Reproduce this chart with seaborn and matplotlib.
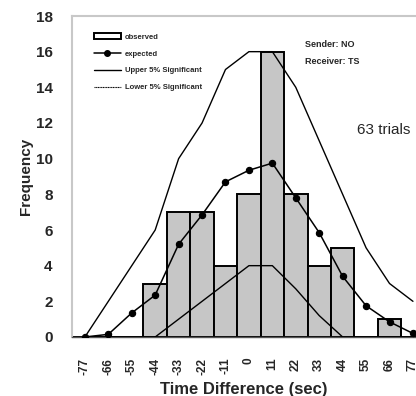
import numpy as np
import pandas as pd
import matplotlib
matplotlib.use("Agg")
import matplotlib.pyplot as plt
import seaborn as sns
from matplotlib.patches import Patch
from matplotlib.lines import Line2D

categories = ["-77", "-66", "-55", "-44", "-33", "-22", "-11", "0",
              "11", "22", "33", "44", "55", "66", "77"]
observed = [0, 0, 0, 3, 7, 7, 4, 8, 16, 8, 4, 5, 0, 1, 0]
expected = [0, 0.15, 1.35, 2.35, 5.2, 6.85, 8.7, 9.35, 9.75, 7.8, 5.85, 3.4, 1.75, 0.85, 0.2]
upper5 = [0, 2, 4, 6, 10, 12, 15, 16, 16, 14, 11, 8, 5, 3, 2]
lower5 = [0, 0, 0, 0, 1, 2, 3, 4, 4, 2.7, 1.2, 0, 0, 0, 0]
yticks = list(range(0, 19, 2))

df = pd.DataFrame({"t": categories, "observed": observed, "expected": expected,
                   "upper": upper5, "lower": lower5})

sns.set_style("white")
plt.rcParams["font.family"] = ["Liberation Sans", "DejaVu Sans"]

fig = plt.figure(figsize=(4.16, 3.96), dpi=100)
ax = fig.add_axes([72/416, (396-337)/396, 1 - 72/416, (337-16)/396])

sns.barplot(data=df, x="t", y="observed", order=categories, color="#c6c6c6",
            edgecolor="black", linewidth=1.4, width=1.0, saturation=1, ax=ax, zorder=2)
sns.pointplot(data=df, x="t", y="expected", order=categories, color="black",
              markers="o", markersize=4.5, linewidth=1.1, errorbar=None, ax=ax, zorder=4)
sns.pointplot(data=df, x="t", y="upper", order=categories, color="black",
              marker="", linewidth=1.0, errorbar=None, ax=ax, zorder=3)
sns.pointplot(data=df, x="t", y="lower", order=categories, color="black",
              marker="", linewidth=1.0, errorbar=None, ax=ax, zorder=3)

ax.set_xlim(-0.55, 14.13)
ax.set_ylim(0, 18)
ax.set_yticks(yticks)
ax.set_yticklabels([str(v) for v in yticks], fontsize=11, fontweight="bold")
ax.set_xticks(range(len(categories)))
ax.set_xticklabels(categories, rotation=90, fontsize=8.5, fontweight="bold")
ax.tick_params(axis="y", direction="in", length=3, color="#bbbbbb", pad=14)
ax.tick_params(axis="x", length=0, pad=15)
ax.set_xlabel("Time Difference (sec)", fontsize=12, fontweight="bold", labelpad=5)
ax.set_ylabel("Frequency", fontsize=11, fontweight="bold", labelpad=2)

for s in ["left", "top"]:
    ax.spines[s].set_color("#c8c8c8")
    ax.spines[s].set_linewidth(1.5)
ax.spines["right"].set_visible(False)
ax.spines["bottom"].set_color("#555555")
ax.spines["bottom"].set_linewidth(1.0)

handles = [
    Patch(facecolor="white", edgecolor="black", linewidth=1.4),
    Line2D([], [], color="black", marker="o", markersize=4, linewidth=1.1),
    Line2D([], [], color="black", linewidth=1.0),
    Line2D([], [], color="black", linewidth=0.8, linestyle=(0, (1, 0.5))),
]
labels = ["observed", "expected", "Upper 5% Significant", "Lower 5% Significant"]
leg = ax.legend(handles, labels, loc="upper left", bbox_to_anchor=(0.045, 0.965),
                frameon=False, prop={"size": 5.5, "weight": "bold"},
                handlelength=3.6, handletextpad=0.5, labelspacing=1.25, borderpad=0.3)

ax.text(0.677, 0.91, "Sender: NO", transform=ax.transAxes, fontsize=6.5,
        fontweight="bold", ha="left", va="center")
ax.text(0.677, 0.857, "Receiver: TS", transform=ax.transAxes, fontsize=6.5,
        fontweight="bold", ha="left", va="center")
ax.text(0.828, 0.645, "63 trials", transform=ax.transAxes, fontsize=11,
        ha="left", va="center", clip_on=False)

fig.savefig("out.png", dpi=100)
